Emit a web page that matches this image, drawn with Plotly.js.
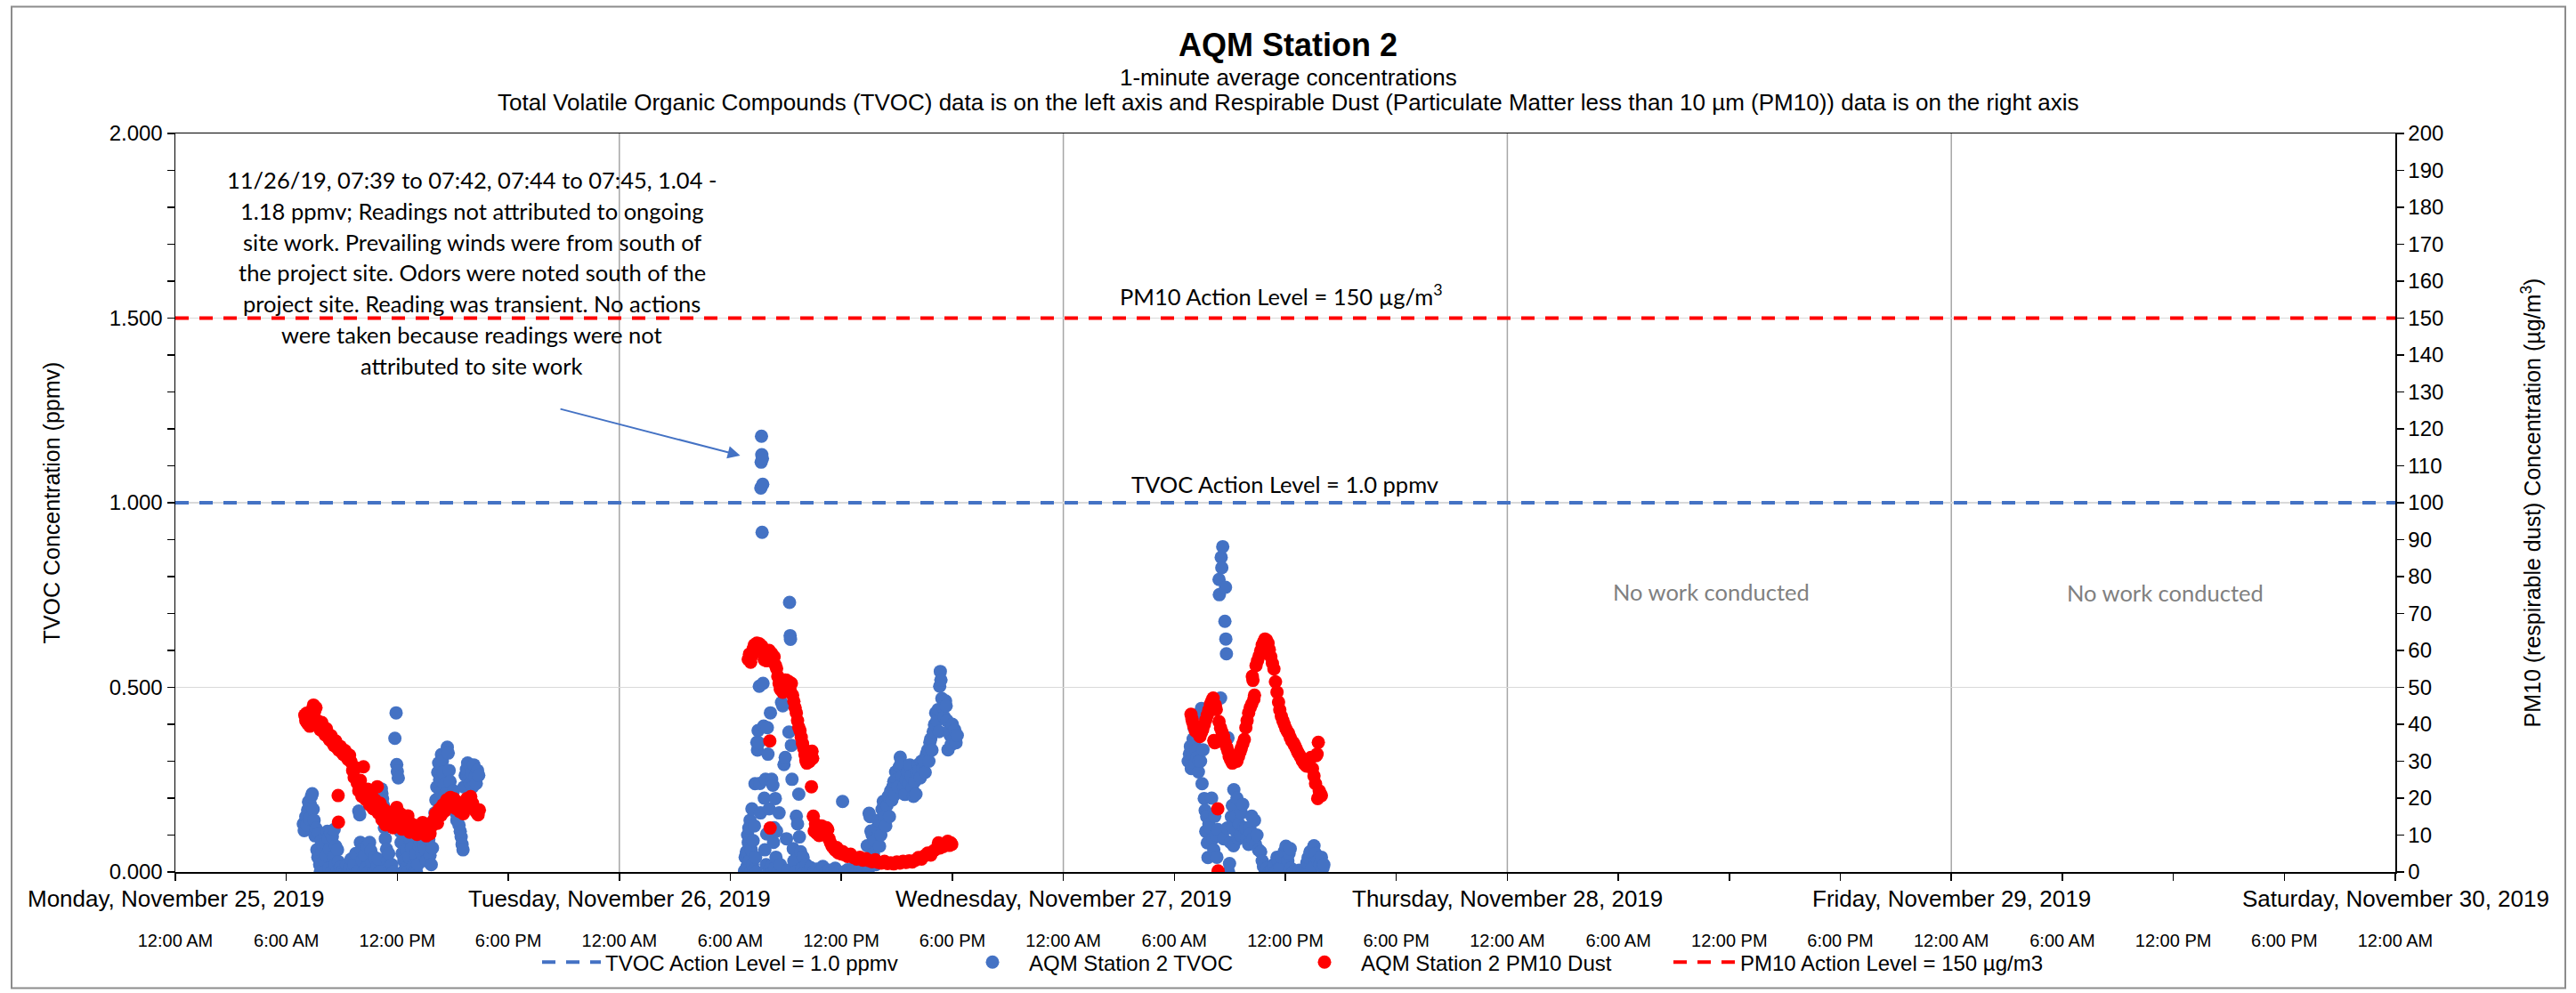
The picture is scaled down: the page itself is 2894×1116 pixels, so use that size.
<!DOCTYPE html>
<html><head><meta charset="utf-8">
<script src="https://cdn.plot.ly/plotly-3.0.1.min.js"></script>
<style>html,body{margin:0;padding:0;background:#fff}</style>
</head><body><div id="chart" style="width:2894px;height:1116px"></div>
<script>
// ---------------- DATA ----------------
const dayDates = ['2019-11-25','2019-11-26','2019-11-27','2019-11-28','2019-11-29','2019-11-30'];
const dayLabels = ['Monday, November 25, 2019','Tuesday, November 26, 2019','Wednesday, November 27, 2019',
  'Thursday, November 28, 2019','Friday, November 29, 2019','Saturday, November 30, 2019'];
const hourTicks = ['00:00','06:00','12:00','18:00'];
const hourLabels = ['12:00 AM','6:00 AM','12:00 PM','6:00 PM'];

const actionTimes = ['2019-11-25 00:00','2019-11-30 00:00'];
const tvocActionLevel = [1.0, 1.0];     // ppmv (left axis)
const pm10ActionLevel = [150, 150];     // ug/m3 (right axis)

// TVOC (ppmv), [time, value]
const tvocNov25 = [
['06:55',0.130],['06:58',0.112],['07:00',0.135],['07:03',0.150],['07:06',0.128],['07:09',0.168],['07:12',0.190],
['07:15',0.145],['07:18',0.183],['07:21',0.205],['07:24',0.212],['07:27',0.170],['07:30',0.140],['07:33',0.098],
['07:36',0.118],['07:39',0.060],['07:42',0.040],['07:45',0.105],['07:48',0.020],['07:50',0.000],['07:53',0.085],
['07:56',0.055],['08:00',0.070],['08:03',0.030],['08:05',0.000],['08:08',0.078],['08:10',0.045],['08:13',0.110],
['08:16',0.090],['08:18',0.010],['08:20',0.062],['08:23',0.108],['08:26',0.000],['08:29',0.095],['08:32',0.040],
['08:35',0.115],['08:38',0.020],['08:40',0.070],['08:43',0.000],['08:46',0.060],['08:49',0.028],['08:52',0.000],
['08:55',0.012],['09:00',0.000],['09:05',0.005],['09:10',0.000],['09:15',0.018],['09:20',0.000],['09:25',0.010],
['09:30',0.035],['09:35',0.000],['09:40',0.020],['09:45',0.050],['09:50',0.000],['09:55',0.165],['09:58',0.155],
['10:00',0.080],['10:03',0.060],['10:06',0.030],['10:10',0.000],['10:14',0.045],['10:18',0.010],['10:22',0.070],
['10:26',0.000],['10:30',0.080],['10:34',0.058],['10:38',0.025],['10:42',0.000],['10:46',0.040],['10:50',0.000],
['10:54',0.015],['10:58',0.035],['11:02',0.000],['11:08',0.225],['11:10',0.212],['11:12',0.198],['11:15',0.180],
['11:18',0.120],['11:21',0.090],['11:25',0.062],['11:28',0.030],['11:32',0.050],['11:35',0.015],['11:38',0.000],
['11:42',0.020],['11:46',0.000],['11:52',0.362],['11:56',0.431],['11:58',0.291],['12:00',0.272],['12:03',0.255],
['12:06',0.120],['12:09',0.110],['12:12',0.080],['12:15',0.050],['12:18',0.000],['12:21',0.030],['12:24',0.075],
['12:27',0.010],['12:30',0.060],['12:34',0.000],['12:38',0.040],['12:42',0.090],['12:46',0.065],['12:50',0.015],
['12:54',0.000],['12:58',0.048],['13:02',0.000],['13:06',0.020],['13:10',0.070],['13:14',0.080],['13:18',0.050],
['13:22',0.095],['13:26',0.075],['13:30',0.060],['13:34',0.030],['13:38',0.100],['13:42',0.088],['13:46',0.045],
['13:50',0.020],['13:54',0.065],['13:58',0.140],['14:02',0.160],['14:05',0.195],['14:08',0.230],['14:11',0.270],
['14:14',0.295],['14:17',0.250],['14:20',0.215],['14:23',0.318],['14:26',0.300],['14:29',0.270],['14:32',0.238],
['14:35',0.210],['14:38',0.190],['14:42',0.338],['14:45',0.322],['14:48',0.275],['14:51',0.245],['14:54',0.200],
['14:58',0.178],['15:02',0.220],['15:06',0.190],['15:10',0.160],['15:13',0.140],['15:16',0.150],['15:20',0.127],
['15:24',0.110],['15:27',0.095],['15:30',0.075],['15:33',0.060],['15:36',0.230],['15:40',0.262],['15:44',0.278],
['15:48',0.295],['15:52',0.250],['15:56',0.240],['16:00',0.268],['16:04',0.230],['16:08',0.290],['16:12',0.258],
['16:16',0.240],['16:20',0.275],['16:24',0.262]];

const tvocNov26 = [
['06:46',0.003],['06:48',0.040],['06:50',0.000],['06:52',0.055],['06:54',0.015],['06:56',0.100],['06:58',0.080],
['07:00',0.119],['07:02',0.030],['07:04',0.140],['07:06',0.000],['07:08',0.060],['07:10',0.171],['07:12',0.020],
['07:14',0.085],['07:16',0.005],['07:18',0.125],['07:20',0.239],['07:22',0.040],['07:24',0.000],['07:26',0.351],
['07:28',0.330],['07:30',0.383],['07:32',0.350],['07:34',0.503],['07:36',0.240],['07:38',0.160],['07:39',1.040],
['07:40',1.110],['07:41',1.180],['07:42',1.130],['07:43',0.920],['07:44',1.120],['07:45',1.050],['07:46',0.511],
['07:48',0.395],['07:50',0.200],['07:52',0.060],['07:54',0.251],['07:56',0.020],['07:58',0.103],['08:00',0.391],
['08:02',0.319],['08:04',0.000],['08:06',0.171],['08:08',0.110],['08:10',0.431],['08:12',0.015],['08:14',0.251],
['08:16',0.000],['08:18',0.235],['08:20',0.080],['08:22',0.120],['08:24',0.010],['08:26',0.199],['08:28',0.040],
['08:30',0.111],['08:34',0.000],['08:38',0.160],['08:42',0.020],['08:46',0.459],['08:50',0.450],['08:54',0.291],
['08:58',0.310],['09:02',0.090],['09:06',0.005],['09:10',0.379],['09:12',0.730],['09:14',0.640],['09:15',0.630],
['09:18',0.343],['09:20',0.251],['09:24',0.063],['09:26',0.030],['09:30',0.000],['09:34',0.151],['09:38',0.130],
['09:42',0.211],['09:44',0.095],['09:48',0.055],['09:52',0.010],['09:56',0.040],['10:00',0.000],['10:06',0.020],
['10:12',0.000],['10:20',0.012],['10:30',0.000],['10:40',0.008],['10:50',0.000],['11:00',0.015],['11:10',0.000],
['11:20',0.005],['11:30',0.000],['11:40',0.010],['11:50',0.000],['12:04',0.191],['12:10',0.000],['12:20',0.006],
['12:30',0.000],['12:40',0.012],['12:50',0.000],['13:00',0.004],['13:10',0.000],['13:20',0.020],['13:24',0.071],
['13:27',0.000],['13:30',0.159],['13:33',0.150],['13:36',0.111],['13:40',0.100],['13:44',0.050],['13:48',0.085],
['13:52',0.020],['13:56',0.120],['14:00',0.140],['14:04',0.070],['14:08',0.100],['14:12',0.170],['14:16',0.191],
['14:20',0.150],['14:24',0.125],['14:28',0.180],['14:32',0.205],['14:36',0.150],['14:40',0.220],['14:44',0.195],
['14:47',0.231],['14:50',0.245],['14:53',0.210],['14:56',0.271],['15:00',0.250],['15:04',0.230],['15:08',0.285],
['15:11',0.311],['15:14',0.295],['15:18',0.260],['15:22',0.231],['15:26',0.210],['15:30',0.250],['15:34',0.270],
['15:38',0.240],['15:42',0.290],['15:46',0.260],['15:50',0.228],['15:54',0.205],['15:58',0.245],['16:02',0.211],
['16:04',0.271],['16:08',0.290],['16:12',0.275],['16:16',0.255],['16:20',0.300],['16:24',0.280],['16:28',0.303],
['16:32',0.270],['16:36',0.320],['16:40',0.330],['16:44',0.300],['16:47',0.351],['16:50',0.360],['16:54',0.330],
['16:58',0.380],['17:02',0.399],['17:06',0.431],['17:10',0.410],['17:14',0.440],['17:17',0.380],['17:19',0.503],
['17:21',0.543],['17:23',0.520],['17:26',0.470],['17:30',0.445],['17:34',0.420],['17:38',0.463],['17:40',0.450],
['17:43',0.410],['17:46',0.331],['17:50',0.383],['17:53',0.370],['17:56',0.345],['18:00',0.400],['18:04',0.360],
['18:08',0.385],['18:12',0.350],['18:16',0.370]];

const tvocNov27 = [
['06:45',0.300],['06:49',0.320],['06:52',0.340],['06:55',0.280],['06:59',0.320],['07:01',0.360],['07:04',0.391],
['07:06',0.351],['07:08',0.295],['07:11',0.330],['07:14',0.310],['07:18',0.271],['07:20',0.300],['07:23',0.430],
['07:25',0.300],['07:28',0.443],['07:30',0.239],['07:33',0.331],['07:37',0.199],['07:40',0.167],['07:42',0.110],
['07:45',0.150],['07:47',0.079],['07:49',0.039],['07:52',0.130],['07:56',0.119],['08:01',0.200],['08:05',0.090],
['08:08',0.060],['08:11',0.151],['08:15',0.100],['08:18',0.040],['08:21',0.115],['08:25',0.792],['08:26',0.751],
['08:30',0.471],['08:32',0.852],['08:34',0.824],['08:37',0.881],['08:40',0.090],['08:44',0.679],['08:46',0.771],
['08:47',0.631],['08:49',0.591],['08:52',0.119],['08:54',0.363],['08:56',0.000],['08:59',0.023],['09:02',0.080],
['09:05',0.150],['09:08',0.180],['09:10',0.119],['09:12',0.071],['09:13',0.223],['09:17',0.150],['09:20',0.110],
['09:23',0.200],['09:27',0.090],['09:30',0.130],['09:34',0.100],['09:37',0.160],['09:42',0.183],['09:46',0.120],
['09:52',0.119],['09:56',0.090],['10:01',0.075],['10:05',0.120],['10:08',0.105],['10:11',0.151],['10:15',0.090],
['10:20',0.140],['10:23',0.075],['10:28',0.100],['10:33',0.060],['10:40',0.055],['10:45',0.030],['10:49',0.015],
['10:55',0.000],['11:00',0.010],['11:08',0.000],['11:15',0.005],['11:22',0.020],['11:27',0.000],['11:33',0.040],
['11:37',0.031],['11:42',0.010],['11:48',0.040],['11:56',0.055],['12:02',0.070],['12:08',0.030],['12:12',0.050],
['12:16',0.063],['12:18',0.010],['12:25',0.000],['12:35',0.000],['12:45',0.005],['12:55',0.000],['13:05',0.010],
['13:10',0.025],['13:14',0.039],['13:20',0.055],['13:26',0.010],['13:33',0.071],['13:38',0.050],['13:45',0.030],
['13:52',0.020],['13:57',0.040],['14:02',0.011],['14:05',0.020]];

// PM10 dust (ug/m3), [time, value]
const pm10Nov25 = [
['07:00',42.5],['07:03',41.0],['07:06',43.0],['07:09',40.2],['07:12',41.8],['07:16',39.5],['07:20',42.0],
['07:24',44.0],['07:28',45.2],['07:32',43.6],['07:36',44.5],['07:40',41.0],['07:45',39.8],['07:50',38.5],
['07:55',40.5],['08:00',38.0],['08:05',37.2],['08:10',38.8],['08:15',36.5],['08:20',35.8],['08:25',36.9],
['08:30',35.0],['08:35',34.2],['08:40',35.5],['08:45',33.6],['08:48',20.7],['08:49',13.5],['08:50',33.0],
['08:55',34.0],['09:00',32.4],['09:05',31.8],['09:10',32.9],['09:15',31.2],['09:20',30.5],['09:25',31.6],
['09:30',29.8],['09:35',27.5],['09:40',25.6],['09:45',28.2],['09:50',24.1],['09:55',22.0],['10:00',24.8],
['10:05',20.5],['10:10',28.5],['10:12',21.8],['10:18',19.6],['10:24',22.4],['10:30',18.2],['10:36',20.8],
['10:42',17.1],['10:48',19.5],['10:55',23.1],['10:58',16.0],['11:04',18.6],['11:10',14.2],['11:16',17.0],
['11:22',12.8],['11:28',15.5],['11:34',13.5],['11:40',16.2],['11:46',12.0],['11:52',14.8],['11:58',17.5],
['12:04',13.2],['12:10',15.8],['12:16',11.6],['12:22',14.0],['12:28',12.3],['12:34',15.2],['12:40',10.8],
['12:46',13.0],['12:52',11.5],['12:58',12.6],['13:04',10.2],['13:10',12.0],['13:16',10.6],['13:22',13.4],
['13:28',11.0],['13:34',9.8],['13:40',11.9],['13:46',10.4],['13:52',12.5],['13:58',14.0],['14:04',15.8],
['14:10',13.2],['14:16',17.0],['14:22',15.4],['14:28',18.2],['14:34',16.5],['14:40',19.5],['14:46',17.8],
['14:52',20.2],['14:58',18.5],['15:04',19.8],['15:10',17.2],['15:16',18.9],['15:22',16.4],['15:28',18.0],
['15:34',15.8],['15:40',17.6],['15:46',19.9],['15:52',18.1],['15:58',20.4],['16:04',18.6],['16:10',17.0],
['16:16',16.2],['16:22',15.5],['16:26',16.8]];

const pm10Nov26 = [
['06:58',57.6],['07:02',59.0],['07:06',56.8],['07:10',58.5],['07:14',60.5],['07:18',61.5],['07:22',60.2],
['07:26',62.0],['07:30',61.0],['07:34',61.8],['07:38',60.5],['07:42',61.2],['07:46',59.8],['07:50',57.5],
['07:54',58.8],['07:58',57.2],['08:02',59.5],['08:06',60.0],['08:08',35.5],['08:09',11.9],['08:10',58.6],
['08:14',59.2],['08:18',57.6],['08:22',58.3],['08:26',56.0],['08:30',55.1],['08:34',53.0],['08:38',51.1],
['08:42',49.5],['08:46',50.8],['08:50',48.7],['08:54',50.2],['08:58',52.0],['09:02',51.9],['09:06',50.5],
['09:10',51.5],['09:14',49.2],['09:18',51.1],['09:22',47.9],['09:26',46.2],['09:30',44.5],['09:34',43.1],
['09:38',41.0],['09:42',39.2],['09:46',38.3],['09:50',36.5],['09:54',34.8],['09:58',33.5],['10:02',31.8],
['10:05',30.2],['10:08',29.5],['10:12',30.4],['10:16',29.9],['10:20',31.5],['10:23',23.1],['10:25',32.7],
['10:27',30.8],['10:29',15.1],['10:32',11.1],['10:36',13.0],['10:40',10.5],['10:44',12.2],['10:48',9.9],
['10:52',11.0],['10:56',12.5],['11:00',10.2],['11:04',11.9],['11:08',10.6],['11:12',12.0],['11:16',11.5],
['11:20',9.0],['11:25',7.9],['11:30',7.0],['11:35',6.5],['11:40',5.9],['11:45',6.6],['11:50',5.2],
['11:55',5.8],['12:00',4.9],['12:05',5.5],['12:10',4.7],['12:20',4.2],['12:30',4.8],['12:40',3.9],
['12:50',3.5],['13:00',4.0],['13:10',3.2],['13:20',3.6],['13:30',3.1],['13:40',2.8],['13:50',3.3],
['14:00',2.6],['14:10',2.4],['14:20',2.9],['14:30',2.3],['14:40',2.5],['14:50',2.2],['15:00',2.7],
['15:10',2.4],['15:20',2.9],['15:30',2.6],['15:40',3.0],['15:50',2.7],['16:00',3.2],['16:10',3.9],
['16:20',3.5],['16:30',4.4],['16:40',5.1],['16:50',4.6],['17:00',5.8],['17:10',6.4],['17:15',7.9],
['17:20',6.5],['17:30',6.9],['17:40',7.4],['17:45',8.3],['17:50',7.2],['17:55',7.9],['17:58',7.5]];

const pm10Nov27 = [
['06:54',42.7],['06:57',41.5],['06:59',40.7],['07:03',39.5],['07:08',38.2],['07:13',39.0],['07:18',37.5],
['07:23',36.7],['07:28',37.8],['07:32',38.6],['07:37',39.9],['07:42',41.2],['07:47',42.5],['07:52',43.9],
['07:57',45.5],['08:02',46.4],['08:06',47.1],['08:08',35.6],['08:11',35.0],['08:13',45.2],['08:16',44.0],
['08:19',35.3],['08:21',17.1],['08:22',0.3],['08:25',40.7],['08:30',39.0],['08:35',37.8],['08:40',36.7],
['08:45',35.0],['08:50',33.8],['08:54',32.7],['08:58',31.2],['09:03',30.3],['09:08',29.5],['09:13',29.8],
['09:18',30.5],['09:23',30.0],['09:28',31.2],['09:33',32.5],['09:37',33.5],['09:42',34.7],['09:47',35.9],
['09:52',39.1],['09:56',41.0],['10:01',43.1],['10:06',44.5],['10:11',45.5],['10:13',53.0],['10:15',51.9],
['10:18',46.8],['10:20',47.9],['10:25',55.9],['10:30',57.2],['10:35',58.5],['10:40',59.9],['10:45',61.5],
['10:50',62.4],['10:54',63.1],['10:59',62.8],['11:04',62.0],['11:08',60.2],['11:13',58.3],['11:18',56.5],
['11:23',55.0],['11:28',51.5],['11:33',48.7],['11:38',46.0],['11:42',43.9],['11:47',42.2],['11:52',41.0],
['11:57',39.9],['12:02',38.8],['12:07',38.0],['12:11',37.5],['12:16',36.4],['12:21',35.5],['12:26',35.0],
['12:30',34.3],['12:35',33.5],['12:40',32.5],['12:45',31.8],['12:50',31.1],['12:55',30.2],['13:00',29.5],
['13:05',29.0],['13:09',28.7],['13:14',29.6],['13:18',30.4],['13:23',31.0],['13:28',28.0],['13:33',26.0],
['13:38',23.9],['13:40',31.5],['13:43',31.9],['13:45',19.9],['13:47',35.1],['13:50',22.0],['13:54',21.2],
['13:57',20.7]];

// ---------------- BUILD ----------------
function series(pairs, day) {
  return { x: pairs.map(p => '2019-11-' + day + ' ' + p[0]), y: pairs.map(p => p[1]) };
}
const tv = [series(tvocNov25,'25'), series(tvocNov26,'26'), series(tvocNov27,'27')];
const pm = [series(pm10Nov25,'25'), series(pm10Nov26,'26'), series(pm10Nov27,'27')];
const tvocX = [].concat(...tv.map(s => s.x)), tvocY = [].concat(...tv.map(s => s.y));
const pmX = [].concat(...pm.map(s => s.x)), pmY = [].concat(...pm.map(s => s.y));

const tickVals = [], tickText = [];
dayDates.forEach((d, i) => {
  hourTicks.forEach((h, j) => {
    if (i === dayDates.length - 1 && j > 0) return;
    tickVals.push(d + ' ' + h); tickText.push(hourLabels[j]);
  });
});

const W = 2894, H = 1116, L = 197, R = 2691, T = 150, B = 983;
const PW = R - L, PH = B - T;
const px = x => (x - L) / PW;          // pixel -> paper x
const py = y => (B - y) / PH;          // pixel -> paper y
const t0 = Date.parse(dayDates[0] + 'T00:00:00Z'), t1 = Date.parse(dayDates[dayDates.length-1] + 'T00:00:00Z');
const dateFrac = d => (Date.parse(d + 'T00:00:00Z') - t0) / (t1 - t0);

const ARIAL = 'Liberation Sans, Arial, sans-serif';
const CALIBRI = 'Lato, Carlito, Calibri, sans-serif';
const BLUE = '#4472C4', RED = '#FF0000';
const MS = 15;

const traces = [
  { x: actionTimes, y: tvocActionLevel, mode: 'lines', name: 'TVOC Action Level = 1.0 ppmv',
    line: { color: BLUE, width: 4, dash: '15px,12px' }, legend: 'legend', hoverinfo: 'skip' },
  { x: tvocX, y: tvocY, mode: 'markers', type: 'scatter', name: 'AQM Station 2 TVOC',
    marker: { color: BLUE, size: MS, line: { width: 0 } }, legend: 'legend2' },
  { x: pmX, y: pmY, mode: 'markers', type: 'scatter', name: 'AQM Station 2 PM10 Dust', yaxis: 'y2',
    marker: { color: RED, size: MS, line: { width: 0 } }, legend: 'legend3' },
  { x: actionTimes, y: pm10ActionLevel, mode: 'lines', name: 'PM10 Action Level = 150 µg/m3', yaxis: 'y2',
    line: { color: RED, width: 4, dash: '15px,12px' }, legend: 'legend4', hoverinfo: 'skip' }
];

const noteLines = [
  '11/26/19, 07:39 to 07:42, 07:44 to 07:45, 1.04 -',
  '1.18 ppmv; Readings not attributed to ongoing',
  'site work. Prevailing winds were from south of',
  'the project site. Odors were noted south of the',
  'project site. Reading was transient. No actions',
  'were taken because readings were not',
  'attributed to site work'
];

const annotations = [];
dayDates.forEach((d, i) => annotations.push({
  xref: 'paper', yref: 'paper', x: dateFrac(d), y: py(1013), text: dayLabels[i],
  showarrow: false, xanchor: 'center', yanchor: 'middle', font: { family: ARIAL, size: 26, color: '#000' }
}));
noteLines.forEach((t, i) => annotations.push({
  xref: 'paper', yref: 'paper', x: px(530), y: py(202 + i * 35), text: t,
  showarrow: false, xanchor: 'center', yanchor: 'middle', font: { family: CALIBRI, size: 25.5, color: '#000' }
}));
annotations.push({
  xref: 'x', yref: 'y', x: '2019-11-26 06:32', y: 1.128, ax: -205, ay: -53, text: ' ',
  showarrow: true, arrowhead: 2, arrowsize: 1.4, arrowwidth: 2, arrowcolor: BLUE, standoff: 0
});
annotations.push({ xref: 'paper', yref: 'paper', x: px(1443), y: py(545), text: 'TVOC Action Level = 1.0 ppmv',
  showarrow: false, xanchor: 'center', yanchor: 'middle', font: { family: CALIBRI, size: 25.5, color: '#000' } });
annotations.push({ xref: 'paper', yref: 'paper', x: px(1439), y: py(332), text: 'PM10 Action Level = 150 µg/m<sup>3</sup>',
  showarrow: false, xanchor: 'center', yanchor: 'middle', font: { family: CALIBRI, size: 25.5, color: '#000' } });
annotations.push({ xref: 'paper', yref: 'paper', x: px(1922), y: py(667), text: 'No work conducted',
  showarrow: false, xanchor: 'center', yanchor: 'middle', font: { family: CALIBRI, size: 25.5, color: '#808080' } });
annotations.push({ xref: 'paper', yref: 'paper', x: px(2432), y: py(668), text: 'No work conducted',
  showarrow: false, xanchor: 'center', yanchor: 'middle', font: { family: CALIBRI, size: 25.5, color: '#808080' } });
annotations.push({ xref: 'paper', yref: 'paper', x: px(1447), y: py(87), text: '1-minute average concentrations',
  showarrow: false, xanchor: 'center', yanchor: 'middle', font: { family: ARIAL, size: 26, color: '#000' } });
annotations.push({ xref: 'paper', yref: 'paper', x: px(1447), y: py(115),
  text: 'Total Volatile Organic Compounds (TVOC) data is on the left axis and Respirable Dust (Particulate Matter less than 10 µm (PM10)) data is on the right axis',
  showarrow: false, xanchor: 'center', yanchor: 'middle', font: { family: ARIAL, size: 26, color: '#000' } });

const shapes = dayDates.slice(1, -1).map(d => ({
  type: 'line', xref: 'x', yref: 'paper', x0: d, x1: d, y0: 0, y1: 1, layer: 'below',
  line: { color: '#a6a6a6', width: 1.5 }
}));
shapes.push({ type: 'rect', xref: 'paper', yref: 'paper', x0: px(13), x1: px(2882), y0: py(1114), y1: py(7),
  line: { color: '#8c8c8c', width: 2 }, fillcolor: 'rgba(0,0,0,0)', layer: 'above' });

function legendAt(x, w) {
  return { orientation: 'h', x: px(x), y: py(1085), xanchor: 'left', yanchor: 'middle', itemwidth: w,
    font: { family: ARIAL, size: 24, color: '#000' }, bgcolor: 'rgba(0,0,0,0)', borderwidth: 0 };
}

const layout = {
  width: W, height: H,
  margin: { l: L, r: W - R, t: T, b: H - B, pad: 0 },
  paper_bgcolor: '#ffffff', plot_bgcolor: '#ffffff',
  font: { family: ARIAL, color: '#000' },
  title: { text: '<b>AQM Station 2</b>', font: { family: ARIAL, size: 36, color: '#000' },
    xref: 'container', x: 0.5, xanchor: 'center', yref: 'container', y: 1 - 50 / H, yanchor: 'middle' },
  showlegend: true,
  legend: legendAt(604, 66),
  legend2: legendAt(1074, 72),
  legend3: legendAt(1447, 72),
  legend4: legendAt(1875, 70),
  xaxis: {
    type: 'date', range: [dayDates[0], dayDates[dayDates.length - 1]],
    tickmode: 'array', tickvals: tickVals, ticktext: tickText,
    ticks: 'outside', ticklen: 8, tickwidth: 1.5, tickcolor: '#000',
    tickfont: { family: ARIAL, size: 20, color: '#000' }, ticklabelstandoff: 50,
    showline: true, linecolor: '#000', linewidth: 1.5, mirror: true,
    showgrid: false, zeroline: false, fixedrange: true
  },
  yaxis: {
    range: [0, 2], dtick: 0.5, tick0: 0, tickformat: '.3f',
    ticks: 'outside', ticklen: 8, tickwidth: 1.5, tickcolor: '#000',
    minor: { dtick: 0.1, ticks: 'outside', ticklen: 8, tickwidth: 1.5, tickcolor: '#000', showgrid: false },
    tickfont: { family: ARIAL, size: 24, color: '#000' },
    showline: true, linecolor: '#000', linewidth: 1.5,
    showgrid: true, gridcolor: '#d9d9d9', gridwidth: 1.5, zeroline: false,
    title: { text: 'TVOC Concentration (ppmv)', font: { family: ARIAL, size: 25, color: '#000' }, standoff: 48 },
    fixedrange: true
  },
  yaxis2: {
    overlaying: 'y', side: 'right', range: [0, 200], dtick: 10, tick0: 0,
    ticks: 'outside', ticklen: 8, tickwidth: 1.5, tickcolor: '#000',
    tickfont: { family: ARIAL, size: 24, color: '#000' },
    showline: true, linecolor: '#000', linewidth: 1.5, showgrid: false, zeroline: false,
    title: { text: 'PM10 (respirable dust) Concentration (µg/m<sup>3</sup>)', font: { family: ARIAL, size: 25, color: '#000' }, standoff: 92 },
    fixedrange: true
  },
  annotations: annotations,
  shapes: shapes,
  hovermode: false
};

Plotly.newPlot('chart', traces, layout, { displayModeBar: false, staticPlot: true });
</script></body></html>
